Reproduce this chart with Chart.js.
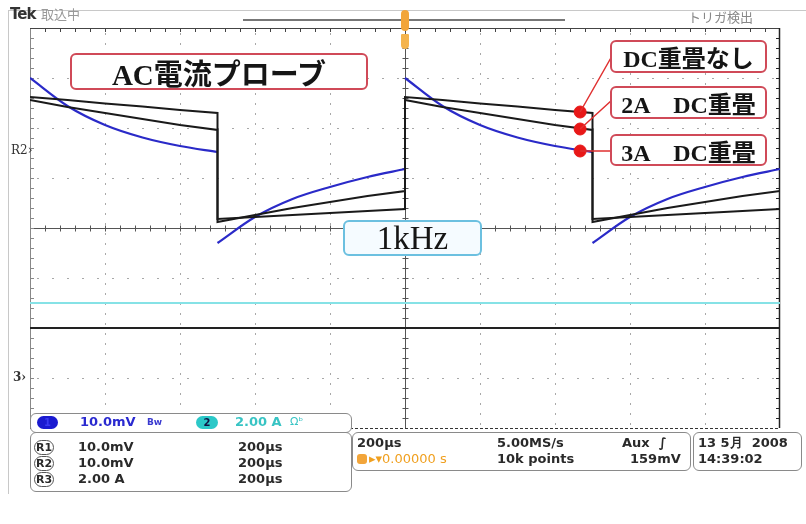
<!DOCTYPE html>
<html>
<head>
<meta charset="utf-8">
<title>AC電流プローブ 1kHz</title>
<script src="https://cdn.jsdelivr.net/npm/chart.js@4/dist/chart.umd.min.js"></script>
<style>
  body { margin: 0; background: #fff; overflow: hidden; }
  #wrap { position: relative; width: 806px; height: 524px; }
  #scope { position: absolute; left: 0; top: 0; }
  .abs { position: absolute; white-space: pre; }
  .panel { position: absolute; border: 1px solid #8a8a8a; border-radius: 6px; background: #fff; }
  .txt { position: absolute; white-space: pre; font: bold 13px "DejaVu Sans", sans-serif; color: #2a2a2a; line-height: 16px; }
  .note { position: absolute; border: 2px solid #d04a58; border-radius: 6px; background: #fff;
          font-family: "Liberation Serif", "DejaVu Serif", "Noto Sans CJK JP", serif; font-weight: bold; color: #151515;
          display: flex; align-items: center; justify-content: center; box-sizing: border-box; white-space: pre; }
  .ref { border: 1px solid #555; border-radius: 8px; padding: 0 1px; font-size: 11px; }
</style>
</head>
<body>
<div id="wrap">
  <canvas id="scope" width="806" height="524"></canvas>

  <!-- outer light frame -->
  <div class="abs" style="left:8px;top:10px;width:798px;height:483px;border-left:1px solid #c8c8c8;border-top:1px solid #c8c8c8;"></div>

  <!-- header -->
  <div class="abs" style="left:10px;top:5px;font:bold 15px 'DejaVu Sans',sans-serif;color:#333;letter-spacing:-1px;">Tek</div>
  <div class="abs" style="left:41px;top:5px;font:13px 'Noto Sans CJK JP',sans-serif;color:#999;line-height:18px;">取込中</div>
  <div class="abs" style="left:688px;top:8px;font:13px 'Noto Sans CJK JP',sans-serif;color:#888;line-height:18px;">トリガ検出</div>
  <div class="abs" style="left:243px;top:19px;width:322px;height:2px;background:#777;"></div>
  <div class="abs" style="left:401px;top:10px;width:8px;height:21px;background:#f2a53a;border-radius:4px;"></div>
  <div class="abs" style="left:401px;top:34px;width:8px;height:15px;background:#f4b44e;border-radius:1px 1px 4px 4px;"></div>

  <!-- reference markers -->
  <div class="abs" style="left:11px;top:143px;font:12px 'DejaVu Serif',serif;color:#333;">R2›</div>
  <div class="abs" style="left:13px;top:370px;font:bold 12px 'DejaVu Serif',serif;color:#333;">3›</div>

  <!-- annotations -->
  <div class="note" style="left:70px;top:53px;width:298px;height:37px;font-size:29px;">AC電流プローブ</div>
  <div class="note" style="left:610px;top:40px;width:157px;height:33px;font-size:24px;">DC重畳なし</div>
  <div class="note" style="left:610px;top:86px;width:157px;height:33px;font-size:24px;">2A　DC重畳</div>
  <div class="note" style="left:610px;top:134px;width:157px;height:32px;font-size:24px;">3A　DC重畳</div>
  <div class="note" style="left:343px;top:220px;width:139px;height:36px;font-size:33px;font-weight:normal;border-color:#6cc0e0;background:#f5fbff;">1kHz</div>

  <!-- bottom panels -->
  <div class="panel" style="left:30px;top:413px;width:320px;height:18px;"></div>
  <div class="abs" style="left:37px;top:416px;width:21px;height:13px;border-radius:7px;background:#1a1ad0;color:#3a3af0;font:bold 10px 'DejaVu Sans';text-align:center;line-height:13px;">1</div>
  <div class="txt" style="left:80px;top:414px;color:#2a2ad0;">10.0mV</div>
  <div class="txt" style="left:147px;top:414px;color:#3a3ad0;font-size:9px;">Bw</div>
  <div class="abs" style="left:196px;top:416px;width:22px;height:13px;border-radius:7px;background:#2cc8c8;color:#114;font:bold 10px 'DejaVu Sans';text-align:center;line-height:13px;">2</div>
  <div class="txt" style="left:235px;top:414px;color:#38c4c4;">2.00 A</div>
  <div class="txt" style="left:290px;top:414px;color:#38c4c4;font-weight:normal;font-size:11px;">Ωᵇ</div>

  <div class="panel" style="left:30px;top:432px;width:320px;height:58px;"></div>
  <div class="txt" style="left:34px;top:439px;"><span class="ref">R1</span></div>
  <div class="txt" style="left:78px;top:439px;">10.0mV</div>
  <div class="txt" style="left:238px;top:439px;">200µs</div>
  <div class="txt" style="left:34px;top:455px;"><span class="ref">R2</span></div>
  <div class="txt" style="left:78px;top:455px;">10.0mV</div>
  <div class="txt" style="left:238px;top:455px;">200µs</div>
  <div class="txt" style="left:34px;top:471px;"><span class="ref">R3</span></div>
  <div class="txt" style="left:78px;top:471px;">2.00 A</div>
  <div class="txt" style="left:238px;top:471px;">200µs</div>

  <div class="panel" style="left:352px;top:432px;width:337px;height:37px;"></div>
  <div class="txt" style="left:357px;top:435px;">200µs</div>
  <div class="abs" style="left:357px;top:454px;width:10px;height:10px;border-radius:3px;background:#f2a53a;"></div>
  <div class="txt" style="left:369px;top:451px;color:#f0a020;font-weight:normal;">▸▾0.00000 s</div>
  <div class="txt" style="left:497px;top:435px;">5.00MS/s</div>
  <div class="txt" style="left:497px;top:451px;">10k points</div>
  <div class="txt" style="left:622px;top:435px;">Aux  ∫</div>
  <div class="txt" style="left:630px;top:451px;">159mV</div>

  <div class="panel" style="left:693px;top:432px;width:107px;height:37px;"></div>
  <div class="txt" style="left:698px;top:435px;">13 5月  2008</div>
  <div class="txt" style="left:698px;top:451px;">14:39:02</div>
</div>

<script>
// scope settings: 200us/div horizontally, values in divisions vertically
const xGridUs = [-800, -600, -400, -200, 200, 400, 600, 800];
const yGridDiv = [-3, -2, -1, 1, 2, 3];
const periodStartsUs = [-1000, 0];
const halfPeriodUs = 500;
const halfTimesUs = [0, 100, 200, 300, 400, 500];

// traces (divisions)
const noDcHigh = [2.62, 2.56, 2.49, 2.43, 2.36, 2.30];
const noDcLow  = [0.18, 0.22, 0.26, 0.30, 0.34, 0.38];
const dc2High  = [2.56, 2.42, 2.30, 2.18, 2.06, 1.96];
const dc2Low   = [0.12, 0.26, 0.40, 0.52, 0.64, 0.74];
const dc3High  = [3.00, 2.44, 2.06, 1.81, 1.64, 1.52];
const dc3Low   = [-0.30, 0.22, 0.58, 0.82, 1.02, 1.18];
const ch2Level = -1.5;
const ref3Level = -2.0;

// marker dots near the end of the second high half
const markerTimeUs = 467;
const markerValues = [2.32, 1.98, 1.54];

function buildTrace(high, low, withEdges) {
    const pts = [];
    periodStartsUs.forEach(p => {
        halfTimesUs.forEach((t, i) => pts.push({ x: p + t, y: high[i] }));
        if (!withEdges) pts.push({ x: p + halfPeriodUs, y: null });
        halfTimesUs.forEach((t, i) => pts.push({ x: p + halfPeriodUs + t, y: low[i] }));
        if (!withEdges) pts.push({ x: p + 2 * halfPeriodUs, y: null });
    });
    return pts;
}

const graticule = {
    id: 'graticule',
    beforeDatasetsDraw(chart) {
        const { ctx, chartArea: a, scales: { x, y } } = chart;
        ctx.save();
        ctx.fillStyle = '#a8a8a8';
        xGridUs.forEach(t => {
            const px = Math.round(x.getPixelForValue(t));
            for (let py = a.top + 5; py < a.bottom; py += 10) ctx.fillRect(px, py, 1, 2);
        });
        yGridDiv.forEach(v => {
            const py = Math.round(y.getPixelForValue(v));
            for (let px = a.left + 7; px < a.right; px += 15) ctx.fillRect(px, py, 2, 1);
        });

        // center cross with minor ticks
        const cx = Math.round(x.getPixelForValue(0)) + 0.5;
        const cy = Math.round(y.getPixelForValue(0)) + 0.5;
        ctx.strokeStyle = '#555';
        ctx.lineWidth = 1;
        ctx.beginPath();
        ctx.moveTo(a.left, cy); ctx.lineTo(a.right, cy);
        ctx.moveTo(cx, a.top); ctx.lineTo(cx, a.bottom);
        for (let px = a.left + 15; px < a.right; px += 15) { ctx.moveTo(px + 0.5, cy - 3); ctx.lineTo(px + 0.5, cy + 3); }
        for (let py = a.top + 10; py < a.bottom; py += 10) { ctx.moveTo(cx - 3, py + 0.5); ctx.lineTo(cx + 3, py + 0.5); }
        ctx.stroke();

        // frame with edge ticks
        ctx.strokeStyle = '#888';
        ctx.beginPath();
        ctx.moveTo(a.left + 0.5, a.top); ctx.lineTo(a.left + 0.5, a.bottom);
        for (let py = a.top + 10; py < a.bottom; py += 10) { ctx.moveTo(a.left, py + 0.5); ctx.lineTo(a.left + 4, py + 0.5); }
        ctx.stroke();
        ctx.strokeStyle = '#444';
        ctx.beginPath();
        ctx.moveTo(a.left, a.top + 0.5); ctx.lineTo(a.right, a.top + 0.5);
        for (let px = a.left + 15; px < a.right; px += 15) { ctx.moveTo(px + 0.5, a.top); ctx.lineTo(px + 0.5, a.top + 4); }
        ctx.stroke();
        ctx.strokeStyle = '#222';
        ctx.lineWidth = 1.5;
        ctx.beginPath();
        ctx.moveTo(a.right - 0.5, a.top); ctx.lineTo(a.right - 0.5, a.bottom);
        ctx.stroke();
        ctx.lineWidth = 1;
        ctx.beginPath();
        for (let py = a.top + 10; py < a.bottom; py += 10) { ctx.moveTo(a.right - 4, py + 0.5); ctx.lineTo(a.right, py + 0.5); }
        ctx.stroke();
        ctx.setLineDash([3, 2]);
        ctx.strokeStyle = '#333';
        ctx.beginPath();
        ctx.moveTo(a.left, a.bottom + 0.5); ctx.lineTo(a.right, a.bottom + 0.5);
        ctx.stroke();
        ctx.restore();
    },
    afterDatasetsDraw(chart) {
        // red leader lines from the marker dots to the note boxes
        const { ctx, scales: { x, y } } = chart;
        const ends = [[612, 56], [612, 100], [612, 151]];
        const px = x.getPixelForValue(markerTimeUs);
        ctx.save();
        ctx.strokeStyle = '#e03030';
        ctx.lineWidth = 1.5;
        ctx.beginPath();
        markerValues.forEach((v, i) => {
            ctx.moveTo(px, y.getPixelForValue(v));
            ctx.lineTo(ends[i][0], ends[i][1]);
        });
        ctx.stroke();
        ctx.restore();
    }
};

new Chart(document.getElementById('scope'), {
    type: 'line',
    data: {
        datasets: [
            { label: 'markers', data: markerValues.map(v => ({ x: markerTimeUs, y: v })), showLine: false,
              pointRadius: 6, pointBackgroundColor: '#e81818', pointBorderColor: '#e81818', order: 0 },
            { label: 'DC重畳なし', data: buildTrace(noDcHigh, noDcLow, true), borderColor: '#1a1a1a', borderWidth: 2, tension: 0, order: 2 },
            { label: '2A DC重畳', data: buildTrace(dc2High, dc2Low, true), borderColor: '#1a1a1a', borderWidth: 2, tension: 0, order: 2 },
            { label: '3A DC重畳', data: buildTrace(dc3High, dc3Low, false), borderColor: '#2a2ac8', borderWidth: 2.2,
              cubicInterpolationMode: 'monotone', spanGaps: false, order: 3 },
            { label: 'CH2', data: [{ x: -1000, y: ch2Level }, { x: 1000, y: ch2Level }], borderColor: '#86e2e6', borderWidth: 2, order: 4 },
            { label: 'R3', data: [{ x: -1000, y: ref3Level }, { x: 1000, y: ref3Level }], borderColor: '#222', borderWidth: 2, order: 4 }
        ]
    },
    options: {
        responsive: false,
        animation: false,
        layout: { padding: { left: 30, right: 26, top: 28, bottom: 96 } },
        elements: { point: { radius: 0 } },
        plugins: { legend: { display: false }, tooltip: { enabled: false } },
        scales: {
            x: { type: 'linear', min: -1000, max: 1000, display: false },
            y: { min: -4, max: 4, display: false }
        }
    },
    plugins: [graticule]
});
</script>
</body>
</html>
